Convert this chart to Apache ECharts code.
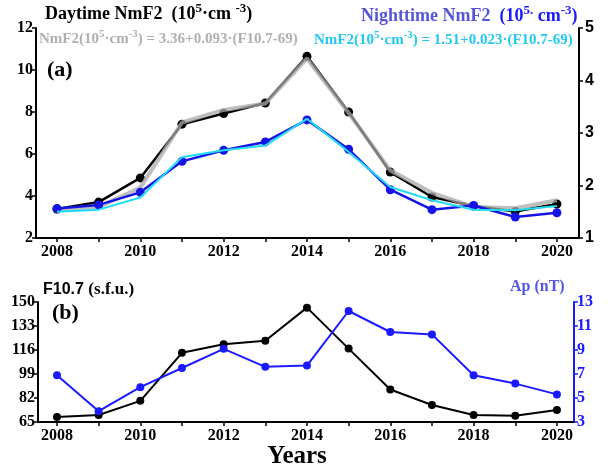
<!DOCTYPE html>
<html>
<head>
<meta charset="utf-8">
<script src="https://cdn.jsdelivr.net/npm/echarts@6/dist/echarts.min.js"></script>
<style>html,body{margin:0;padding:0;background:#fff}#c{width:608px;height:473px}</style>
</head>
<body>
<div id="c"></div>
<script>
const years = [2008,2009,2010,2011,2012,2013,2014,2015,2016,2017,2018,2019,2020];
const yearLabels = [2008,2010,2012,2014,2016,2018,2020];
const dayNmF2 = [3.38,3.71,4.86,7.42,7.93,8.43,10.65,8.0,5.14,3.95,3.52,3.26,3.62];
const dayFit = [3.36,3.47,4.40,7.50,8.10,8.40,10.55,7.95,5.22,4.15,3.48,3.42,3.80];
const nightNmF2 = [1.56,1.63,1.87,2.46,2.67,2.83,3.25,2.69,1.92,1.54,1.62,1.40,1.48];
const nightFit = [1.50,1.54,1.77,2.54,2.67,2.76,3.27,2.64,1.97,1.72,1.54,1.53,1.61];
const f107 = [68.5,70,80,114,120,122.5,146,117,88,77,70,69.5,73.5];
const ap = [6.9,3.9,5.9,7.5,9.1,7.6,7.7,12.25,10.5,10.3,6.9,6.2,5.3];

const serif = 'Liberation Serif';
const sans = 'Liberation Sans';
const pair = arr => years.map((y,i)=>[y,arr[i]]);

const chart = echarts.init(document.getElementById('c'));
const xAxisBase = (gi, min, max) => ({
  type:'value', gridIndex:gi, min:min, max:max,
  axisLine:{show:true, lineStyle:{color:'#000', width:2}},
  axisTick:{show:true, customValues:years, length:4, lineStyle:{color:'#000', width:1.5}},
  axisLabel:{customValues:yearLabels, fontFamily:serif, fontWeight:'bold', fontSize:16, color:'#000', margin:6, formatter:v=>String(v)},
  splitLine:{show:false}
});
const supRich = (c, main, sup) => ({
  m:{fontFamily:serif, fontWeight:'bold', fontSize:main, lineHeight:main+3, verticalAlign:'bottom', fill:c},
  s:{fontFamily:serif, fontWeight:'bold', fontSize:sup, lineHeight:sup, verticalAlign:'top', fill:c}
});

chart.setOption({
  animation:false,
  grid:[
    {left:36, right:29, top:28, bottom:235},
    {left:38, right:34, top:302, bottom:51}
  ],
  xAxis:[ xAxisBase(0, 2007.496, 2020.53), xAxisBase(1, 2007.544, 2020.41) ],
  yAxis:[
    {type:'value', gridIndex:0, min:2, max:12, interval:2, position:'left',
     axisLine:{show:true, lineStyle:{color:'#000', width:2}},
     axisTick:{show:true, length:4, lineStyle:{color:'#000', width:1.5}},
     axisLabel:{fontFamily:serif, fontWeight:'bold', fontSize:16, color:'#000', margin:3},
     splitLine:{show:false}},
    {type:'value', gridIndex:0, min:1, max:5, interval:1, position:'right',
     axisLine:{show:true, lineStyle:{color:'#000', width:2}},
     axisTick:{show:true, length:4, lineStyle:{color:'#000', width:1.5}},
     axisLabel:{fontFamily:sans, fontWeight:'bold', fontSize:16, color:'#000', margin:6},
     splitLine:{show:false}},
    {type:'value', gridIndex:1, min:65, max:150, interval:17, position:'left',
     axisLine:{show:true, lineStyle:{color:'#000', width:2}},
     axisTick:{show:true, length:4, lineStyle:{color:'#000', width:1.5}},
     axisLabel:{fontFamily:serif, fontWeight:'bold', fontSize:16, color:'#000', margin:3},
     splitLine:{show:false}},
    {type:'value', gridIndex:1, min:3, max:13, interval:2, position:'right',
     axisLine:{show:true, lineStyle:{color:'#1a1aff', width:2}},
     axisTick:{show:true, length:4, lineStyle:{color:'#1a1aff', width:1.5}},
     axisLabel:{fontFamily:serif, fontWeight:'bold', fontSize:16, color:'#1a1aff', margin:3},
     splitLine:{show:false}}
  ],
  series:[
    {type:'line', xAxisIndex:0, yAxisIndex:0, data:pair(dayNmF2), symbol:'circle', symbolSize:9,
     itemStyle:{color:'#000'}, lineStyle:{color:'#000', width:2.5}, z:2},
    {type:'line', xAxisIndex:0, yAxisIndex:0, data:pair(dayFit), symbol:'none',
     lineStyle:{color:'#a8a8a8', width:4, opacity:0.75}, z:3},
    {type:'line', xAxisIndex:0, yAxisIndex:1, data:pair(nightNmF2), symbol:'circle', symbolSize:9,
     itemStyle:{color:'#1414e6'}, lineStyle:{color:'#1414e6', width:2.5}, z:4},
    {type:'line', xAxisIndex:0, yAxisIndex:1, data:pair(nightFit), symbol:'none',
     lineStyle:{color:'#22dcf5', width:2}, z:5},
    {type:'line', xAxisIndex:1, yAxisIndex:2, data:pair(f107), symbol:'circle', symbolSize:8,
     itemStyle:{color:'#000'}, lineStyle:{color:'#000', width:2}, z:2},
    {type:'line', xAxisIndex:1, yAxisIndex:3, data:pair(ap), symbol:'circle', symbolSize:8,
     itemStyle:{color:'#1a1aff'}, lineStyle:{color:'#1a1aff', width:2}, z:3}
  ],
  graphic:[
    {type:'text', x:45, y:13, style:{text:'{m|Daytime NmF2  (10}{s|5}{m|·cm }{s|-3}{m|)}', rich:supRich('#000',18,13), verticalAlign:'middle', align:'left'}},
    {type:'text', x:39, y:38, style:{text:'{m|NmF2(10}{s|5}{m|·cm}{s|-3}{m|) = 3.36+0.093·(F10.7-69)}', rich:supRich('#b0b0b0',15,11), verticalAlign:'middle', align:'left'}},
    {type:'text', x:361, y:15, style:{text:'{n|Nighttime NmF2  }{m|(10}{s|5.}{m| cm}{s|-3}{m|)}', rich:Object.assign(supRich('#1a1aff',18,13), {n:{fontFamily:serif, fontWeight:'bold', fontSize:18, lineHeight:21, verticalAlign:'bottom', fill:'#5555d8'}}), verticalAlign:'middle', align:'left'}},
    {type:'text', x:314, y:39, style:{text:'{m|NmF2(10}{s|5}{m|·cm}{s|-3}{m|) = 1.51+0.023·(F10.7-69)}', rich:supRich('#22c8f2',15,11), verticalAlign:'middle', align:'left'}},
    {type:'text', x:47, y:70, style:{text:'(a)', font:'bold 22px "Liberation Serif"', fill:'#000', verticalAlign:'middle', align:'left'}},
    {type:'text', x:52, y:313, style:{text:'(b)', font:'bold 22px "Liberation Serif"', fill:'#000', verticalAlign:'middle', align:'left'}},
    {type:'text', x:43, y:290, style:{text:'{a|F10.7 }{b|(s.f.u.)}', rich:{a:{fontFamily:sans, fontWeight:'bold', fontSize:16, fill:'#000'}, b:{fontFamily:serif, fontWeight:'bold', fontSize:17, fill:'#000'}}, verticalAlign:'middle', align:'left'}},
    {type:'text', x:510, y:287, style:{text:'Ap (nT)', font:'bold 16px "Liberation Serif"', fill:'#5555e6', verticalAlign:'middle', align:'left'}},
    {type:'text', x:297, y:457, style:{text:'Years', font:'bold 25px "Liberation Serif"', fill:'#000', verticalAlign:'middle', align:'center'}}
  ]
});
</script>
</body>
</html>
